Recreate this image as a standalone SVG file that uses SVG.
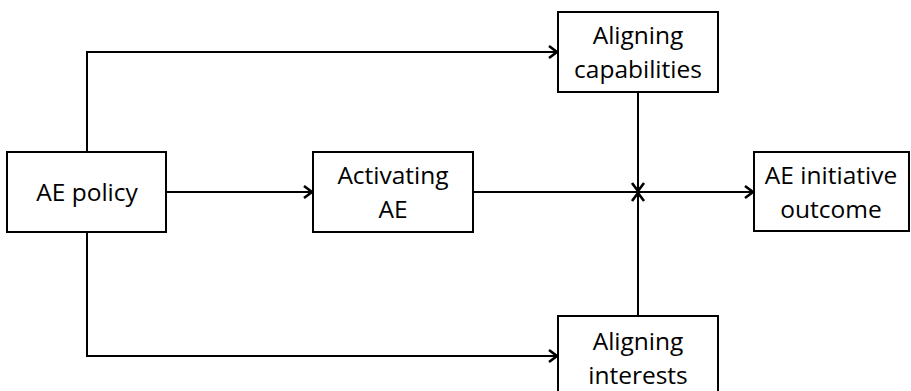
<svg xmlns="http://www.w3.org/2000/svg" width="911" height="391" viewBox="0 0 911 391">
<style>
.box{fill:#fff;stroke:#000;stroke-width:2}
.lbl{font-family:"Open Sans","Liberation Sans",sans-serif;font-size:24.5px;fill:#000;text-anchor:middle}
.con{fill:none;stroke:#000;stroke-width:2;marker-end:url(#arr)}
</style>
<defs>
<marker id="arr" markerUnits="userSpaceOnUse" markerWidth="14" markerHeight="16" refX="10" refY="8" orient="auto">
<path d="M2,2 L10,8 L2,14" fill="none" stroke="#000" stroke-width="2.6" stroke-linejoin="miter"/>
</marker>
</defs>
<rect width="911" height="391" fill="#fff"/>
<g id="connectors">
<path class="con" d="M87,152 V52 H557"/>
<path class="con" d="M87,232 V356 H557"/>
<path class="con" d="M166,192 H312"/>
<path class="con" d="M473,192 H753"/>
<path class="con" d="M638,92 V191"/>
<path class="con" d="M638,316 V193"/>
</g>
<g id="ae-policy">
<rect class="box" x="7" y="152" width="159" height="80"/>
<text class="lbl" x="87" y="201">AE policy</text>
</g>
<g id="activating-ae">
<rect class="box" x="313" y="152" width="160" height="80"/>
<text class="lbl" x="393" y="184">Activating</text>
<text class="lbl" x="393" y="218">AE</text>
</g>
<g id="aligning-capabilities">
<rect class="box" x="558" y="12" width="160" height="80"/>
<text class="lbl" x="638" y="44">Aligning</text>
<text class="lbl" x="638" y="78">capabilities</text>
</g>
<g id="aligning-interests">
<rect class="box" x="558" y="316" width="160" height="84"/>
<text class="lbl" x="638" y="350">Aligning</text>
<text class="lbl" x="638" y="384">interests</text>
</g>
<g id="ae-initiative-outcome">
<rect class="box" x="754" y="152" width="155" height="79"/>
<text class="lbl" x="831" y="184">AE initiative</text>
<text class="lbl" x="831" y="218">outcome</text>
</g>
</svg>
